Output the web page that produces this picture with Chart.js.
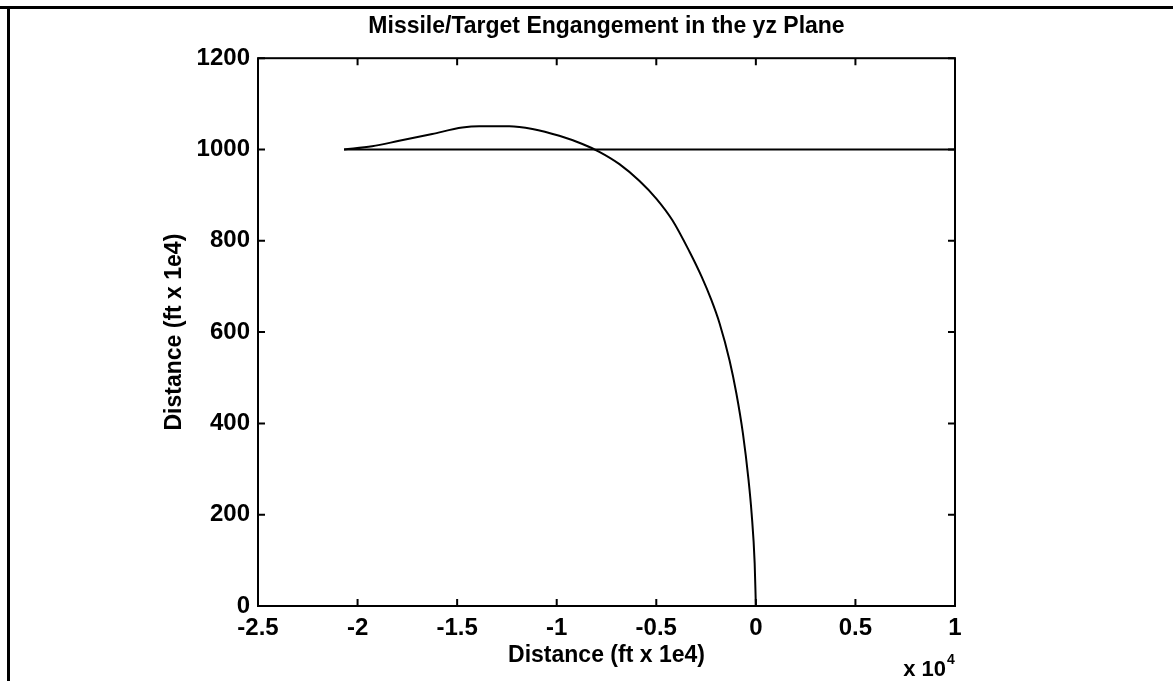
<!DOCTYPE html>
<html>
<head>
<meta charset="utf-8">
<script src="https://cdn.jsdelivr.net/npm/chart.js@4"></script>
<style>
  html, body { margin: 0; padding: 0; background: #fff; }
  #wrap { width: 1173px; height: 681px; }
</style>
</head>
<body>
<div id="wrap"><canvas id="chart" width="1173" height="681"></canvas></div>
<script>
// Đường bay của tên lửa (y, z)
const missileX = [-20680, -19270, -17910, -16250, -14740, -13890, -12380, -11220, -9870, -8710,
                  -7860, -6850, -5840, -4990, -4190, -3330, -2730, -2240, -1820, -1320,
                  -980, -650, -365, -213, -60, 0];
const missileY = [1000, 1007, 1019, 1034, 1048, 1051, 1051, 1045, 1030, 1012,
                  995, 968, 931, 892, 845, 776, 722, 671, 619, 538,
                  466, 378, 275, 203, 94, 0];

// Mục tiêu bay ngang ở độ cao 1000
const targetX = [-20680, 10000];
const targetY = [1000, 1000];

// Trục
const xTicks = [-25000, -20000, -15000, -10000, -5000, 0, 5000, 10000];
const yTicks = [0, 200, 400, 600, 800, 1000, 1200];

const FONT = '"Liberation Sans", Arial, sans-serif';

function toPoints(xs, ys) {
    return xs.map((x, i) => ({ x: x, y: ys[i] }));
}

// Vẽ khung hộp kiểu MATLAB, vạch chia hướng vào trong và nhãn x10^4
const boxPlugin = {
    id: 'boxPlugin',
    beforeDraw(chart) {
        const ctx = chart.ctx;
        ctx.save();
        ctx.fillStyle = '#fff';
        ctx.fillRect(0, 0, chart.width, chart.height);
        // khung ngoài (trên và trái)
        ctx.fillStyle = '#000';
        ctx.fillRect(0, 6, chart.width, 3);
        ctx.fillRect(7, 6, 3, chart.height - 6);
        ctx.restore();
    },
    afterDraw(chart) {
        const ctx = chart.ctx;
        const a = chart.chartArea;
        const xs = chart.scales.x;
        const ys = chart.scales.y;
        const len = 7;
        ctx.save();
        ctx.strokeStyle = '#000';
        ctx.lineWidth = 2;
        ctx.strokeRect(a.left, a.top, a.right - a.left, a.bottom - a.top);
        ctx.beginPath();
        xTicks.forEach(v => {
            const px = xs.getPixelForValue(v);
            ctx.moveTo(px, a.bottom); ctx.lineTo(px, a.bottom - len);
            ctx.moveTo(px, a.top); ctx.lineTo(px, a.top + len);
        });
        yTicks.forEach(v => {
            const py = ys.getPixelForValue(v);
            ctx.moveTo(a.left, py); ctx.lineTo(a.left + len, py);
            ctx.moveTo(a.right, py); ctx.lineTo(a.right - len, py);
        });
        ctx.stroke();

        // nhãn hệ số x 10^4
        ctx.fillStyle = '#000';
        ctx.textBaseline = 'alphabetic';
        ctx.textAlign = 'right';
        ctx.font = 'bold 22px ' + FONT;
        ctx.fillText('x 10', a.right - 9, a.bottom + 70);
        ctx.font = 'bold 14px ' + FONT;
        ctx.textAlign = 'left';
        ctx.fillText('4', a.right - 8, a.bottom + 58);
        ctx.restore();
    }
};

new Chart(document.getElementById('chart'), {
    type: 'scatter',
    data: {
        datasets: [
            {
                label: 'Missile',
                data: toPoints(missileX, missileY),
                showLine: true,
                borderColor: '#000',
                borderWidth: 2,
                pointRadius: 0,
                cubicInterpolationMode: 'monotone'
            },
            {
                label: 'Target',
                data: toPoints(targetX, targetY),
                showLine: true,
                borderColor: '#000',
                borderWidth: 2,
                pointRadius: 0
            }
        ]
    },
    options: {
        responsive: false,
        animation: false,
        layout: {
            padding: { left: 160, right: 218, top: 0, bottom: 10 }
        },
        plugins: {
            legend: { display: false },
            tooltip: { enabled: false },
            title: {
                display: true,
                text: 'Missile/Target Engangement in the yz Plane',
                color: '#000',
                fullSize: false,
                font: { family: FONT, size: 23, weight: 'bold', lineHeight: 1.2 },
                padding: { top: 13, bottom: 17.6 }
            }
        },
        scales: {
            x: {
                type: 'linear',
                min: -25000,
                max: 10000,
                grid: { display: false, drawTicks: false },
                border: { display: false },
                ticks: {
                    stepSize: 5000,
                    color: '#000',
                    padding: 8,
                    maxRotation: 0,
                    font: { family: FONT, size: 24, weight: 'bold' },
                    callback: v => String(v / 10000)
                },
                title: {
                    display: true,
                    text: 'Distance (ft x 1e4)',
                    color: '#000',
                    font: { family: FONT, size: 23, weight: 'bold', lineHeight: 1.2 },
                    padding: { top: 2, bottom: 2 }
                },
                afterFit(scale) { scale.height = 65; }
            },
            y: {
                type: 'linear',
                min: 0,
                max: 1200,
                grid: { display: false, drawTicks: false },
                border: { display: false },
                ticks: {
                    stepSize: 200,
                    color: '#000',
                    padding: 8,
                    font: { family: FONT, size: 24, weight: 'bold' },
                    callback: v => String(v)
                },
                title: {
                    display: true,
                    text: 'Distance (ft x 1e4)',
                    color: '#000',
                    font: { family: FONT, size: 23, weight: 'bold', lineHeight: 1.2 },
                    padding: { top: 1, bottom: 1 }
                },
                afterFit(scale) { scale.width = 98; }
            }
        }
    },
    plugins: [boxPlugin]
});
</script>
</body>
</html>
